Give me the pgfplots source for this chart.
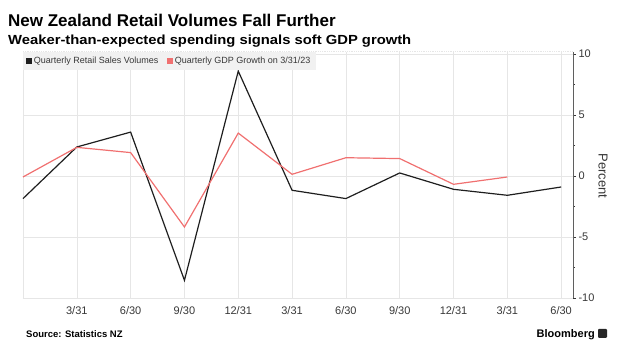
\documentclass[border=0pt]{standalone}
\usepackage{pgfplots}
\pgfplotsset{compat=1.18}
\usepackage{fontspec}
\setmainfont{Liberation Sans}
\newfontfamily\widefont[FakeStretch=1.12]{Liberation Sans}
\definecolor{gdpred}{RGB}{240,112,112}
\definecolor{retblack}{RGB}{30,30,30}
\definecolor{gridc}{RGB}{230,230,230}
\definecolor{txt}{RGB}{55,55,55}
\definecolor{legbg}{RGB}{241,241,241}
\pgfplotsset{legend image code/.code={\fill[#1,draw=none] (0pt,-2.8pt) rectangle (5.6pt,2.8pt);}}
\begin{document}
\begin{tikzpicture}
\path[use as bounding box] (-23pt,-55pt) rectangle (602pt,298pt);
\begin{axis}[
  at={(0pt,0pt)}, anchor=south west,
  scale only axis, width=550pt, height=246.4pt,
  xmin=0, xmax=10.22, ymin=-10, ymax=10.2,
  axis line style={draw=none},
  xtick={0,...,10},
  xticklabels={,3/31,6/30,9/30,12/31,3/31,6/30,9/30,12/31,3/31,6/30},
  x tick style={draw=none},
  ytick={-10,-5,0,5,10},
  yticklabels={-10,-5,0,5,10},
  minor ytick={-7.5,-2.5,2.5,7.5},
  ytick pos=right,
  yticklabel pos=right,
  y tick style={draw=txt, line width=0.8pt},
  tick align=outside,
  major tick length=3pt, minor tick length=2pt,
  xmajorgrids, ymajorgrids,
  major grid style={draw=gridc, line width=0.6pt},
  tick label style={font=\fontsize{11}{11}\selectfont, text=txt},
  xticklabel style={yshift=-2pt},
  yticklabel style={xshift=-1pt},
  legend style={at={(rel axis cs:0,1)}, anchor=north west, fill=legbg, draw=none,
    font=\fontsize{9}{9}\selectfont, text=txt, inner xsep=3pt, inner ysep=3pt,
    /tikz/every even column/.append style={column sep=7pt}},
  legend columns=2,
  clip=false,
]
\draw[gridc, densely dotted, line width=0.8pt] (rel axis cs:0,0) -- (rel axis cs:1,0);
\draw[gridc, densely dotted, line width=0.8pt] (rel axis cs:0,1) -- (rel axis cs:1,1);
\draw[txt!80, line width=1pt] (rel axis cs:1,0) -- (rel axis cs:1,1);
\addplot[color=retblack, line width=1.2pt, mark=none] coordinates {
 (0,-1.85) (1,2.38) (2,3.6) (3,-8.55) (4,8.6) (5,-1.17) (6,-1.85) (7,0.25) (8,-1.09) (9,-1.58) (10,-0.9)};
\addlegendentry{Quarterly Retail Sales Volumes}
\addplot[color=gdpred, line width=1.2pt, mark=none] coordinates {
 (0,-0.08) (1,2.35) (2,1.92) (3,-4.18) (4,3.52) (5,0.14) (6,1.5) (7,1.43) (8,-0.68) (9,-0.08)};
\addlegendentry{Quarterly GDP Growth on 3/31/23}
\end{axis}
\node[anchor=base west, font=\bfseries\fontsize{17}{17}\selectfont, inner sep=0pt] at (-15pt,271pt) {New Zealand Retail Volumes Fall Further};
\node[anchor=base west, font=\widefont\bfseries\fontsize{13.2}{13.2}\selectfont, inner sep=0pt] at (-15pt,253pt) {Weaker-than-expected spending signals soft GDP growth};
\node[anchor=base west, font=\bfseries\fontsize{9.5}{9.5}\selectfont, inner sep=0pt] at (3pt,-40pt) {Source: Statistics NZ};
\node[anchor=base east, font=\bfseries\fontsize{11}{11}\selectfont, inner sep=0pt] at (572pt,-40pt) {Bloomberg};
\fill[black!85, rounded corners=1pt] (575pt,-40pt) rectangle (584pt,-31pt);
\node[rotate=-90, font=\fontsize{13}{13}\selectfont, text=txt] at (580pt,122pt) {Percent};
\end{tikzpicture}
\end{document}
